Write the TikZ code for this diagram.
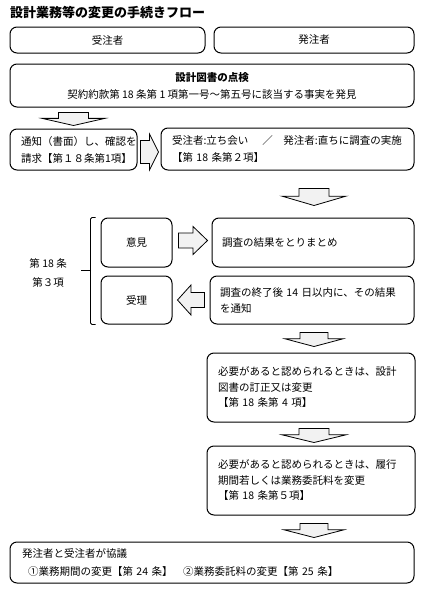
\documentclass[tikz,border=0pt]{standalone}
\usepackage{fontspec}
\setmainfont{Noto Sans CJK JP}
\usetikzlibrary{calc}
\tikzset{
  box/.style={draw, line width=1pt, rounded corners=7pt, inner ysep=0pt,
    font=\fontsize{10.5}{17}\selectfont},
  lbox/.style={box, align=left},
  barrow/.style={draw, line width=0.8pt, fill=gray!10, line join=miter},
}
% vertical block arrow: #1 top centre, #2 tip, #3 shaft half width, #4 head half width
\newcommand\DArr[4]{%
  \path[barrow] let \p1=#1, \p2=#2, \n1={\y1+0.45*(\y2-\y1)} in
    (\x1-#3pt,\y1) -- (\x1+#3pt,\y1) -- (\x1+#3pt,\n1) -- (\x1+#4pt,\n1)
    -- (\x1,\y2) -- (\x1-#4pt,\n1) -- (\x1-#3pt,\n1) -- cycle;}
% horizontal block arrow: #1 tail centre, #2 tip
\newcommand\HArr[4]{%
  \path[barrow] let \p1=#1, \p2=#2, \n1={\x1+0.5*(\x2-\x1)} in
    (\x1,\y1+#3pt) -- (\n1,\y1+#3pt) -- (\n1,\y1+#4pt) -- (\x2,\y1)
    -- (\n1,\y1-#4pt) -- (\n1,\y1-#3pt) -- (\x1,\y1-#3pt) -- cycle;}
\begin{document}
\begin{tikzpicture}[x=1pt,y=-1pt]
\useasboundingbox (0,0) rectangle (425,600);
% title
\node[anchor=west, inner sep=0pt, font=\fontsize{13}{15}\selectfont\bfseries] (title) at (10,13)
  {設計業務等の変更の手続きフロー};
% header boxes
\node[box, minimum width=195pt, minimum height=26pt] (juchu) at (107.5,40) {受注者};
\node[box, minimum width=200pt, minimum height=26pt] (hatchu) at (314,40) {発注者};
\node[box, align=center, minimum width=404pt, minimum height=43pt] (tenken) at (212,85.5)
  {\textbf{設計図書の点検}\\契約約款第 18 条第 1 項第一号～第五号に該当する事実を発見};
% row 2
\node[lbox, minimum width=127pt, minimum height=41pt, text width=105pt, inner xsep=11pt] (tsuchi) at (73.5,149.5)
  {通知（書面）し、確認を\\請求【第１８条第1項】};
\node[lbox, minimum width=253pt, minimum height=42pt, text width=231pt, inner xsep=11pt] (tachiai) at (287.5,149)
  {受注者:立ち会い　 ／　発注者:直ちに調査の実施\\【第 18 条第２項】};
% row 3
\node[box, minimum width=71pt, minimum height=49pt] (iken) at (136.5,242.5) {意見};
\node[lbox, minimum width=202pt, minimum height=49pt, text width=182pt, inner xsep=10pt] (matome) at (313,242.5)
  {調査の結果をとりまとめ};
\node[box, minimum width=71pt, minimum height=48pt] (juri) at (136.5,300) {受理};
\node[lbox, minimum width=204pt, minimum height=48pt, text width=184pt, inner xsep=10pt, font=\fontsize{10.5}{16}\selectfont] (shuryo) at (312,300)
  {調査の終了後 14 日以内に、その結果\\を通知};
% later boxes
\node[lbox, minimum width=208pt, minimum height=69pt, text width=186pt, inner xsep=11pt, font=\fontsize{10.5}{15.5}\selectfont] (teisei) at (311,387.5)
  {必要があると認められるときは、設計\\図書の訂正又は変更\\【第 18 条第 4 項】};
\node[lbox, minimum width=208pt, minimum height=69pt, text width=186pt, inner xsep=11pt, font=\fontsize{10.5}{15.5}\selectfont] (henko) at (311,480.5)
  {必要があると認められるときは、履行\\期間若しくは業務委託料を変更\\【第 18 条第５項】};
\node[lbox, minimum width=404pt, minimum height=41pt, text width=380pt, inner xsep=12pt, font=\fontsize{10.5}{18}\selectfont] (kyogi) at (212,562.5)
  {発注者と受注者が協議\\\hspace*{6pt}①業務期間の変更【第 24 条】　②業務委託料の変更【第 25 条】};
% bracket
\draw[line width=0.8pt, rounded corners=1.5pt] ($(iken.north west)+(-5,0)$) -- ($(iken.north west)+(-10,0)$)
  -- ($(juri.south west)+(-10,0)$) -- ($(juri.south west)+(-5,0)$);
\coordinate (brkmid) at (91,270);
\coordinate (brkend) at (81,270);
\draw[line width=0.8pt] (brkmid) -- (brkend);
\node[align=center, anchor=east, inner sep=0pt, font=\fontsize{10.5}{19}\selectfont] (art) at ($(brkend)+(-14,2.5)$)
  {第 18 条\\第３項};
% block arrows
\DArr{($(tsuchi.north)+(0,-16)$)}{($(tsuchi.north)+(0,-3)$)}{15}{31.5}
\HArr{($(tsuchi.east)+(3,2.5)$)}{($(tachiai.west)+(-2,3)$)}{11.5}{18}
\DArr{($(matome.north)+(1,-29)$)}{($(matome.north)+(1,-12)$)}{15}{32}
\HArr{($(iken.east)+(6,-2)$)}{($(matome.west)+(-4,-2)$)}{7.5}{14}
\HArr{($(shuryo.west)+(-5,0)$)}{($(juri.east)+(5,0)$)}{7.5}{15}
\DArr{($(teisei.north)+(3,-20)$)}{($(teisei.north)+(3,-6)$)}{14}{29}
\DArr{($(henko.north)+(3,-17)$)}{($(henko.north)+(3,-3)$)}{15}{32}
\DArr{($(henko.south)+(3,8)$)}{($(henko.south)+(3,22)$)}{14}{30}
\end{tikzpicture}
\end{document}
